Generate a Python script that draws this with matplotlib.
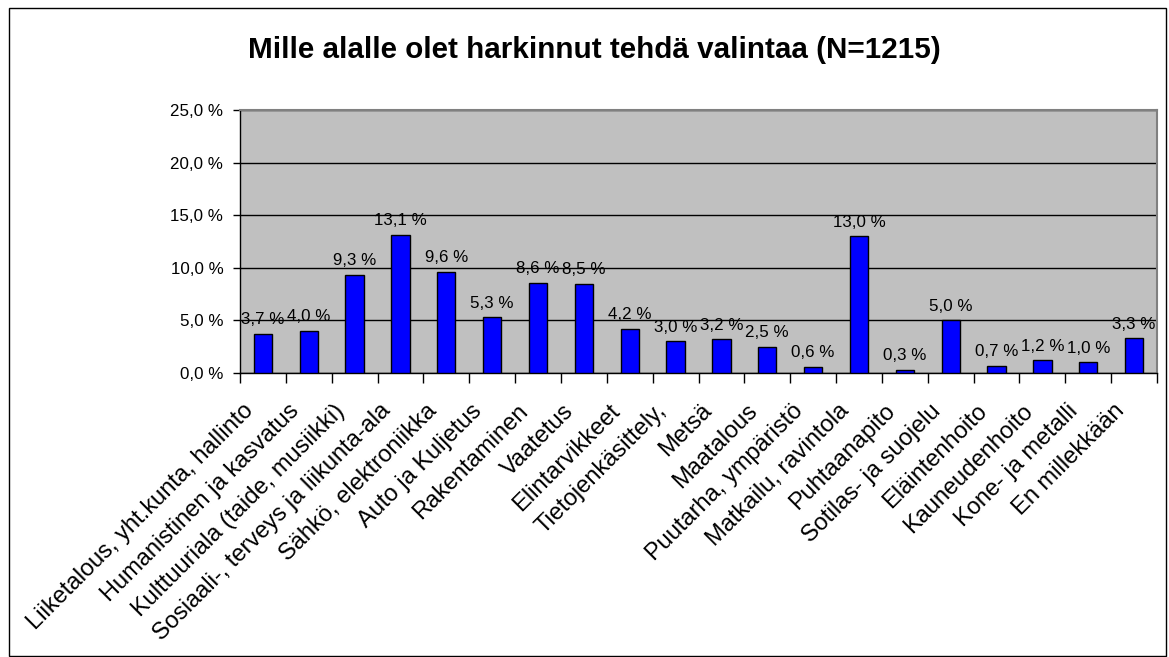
import matplotlib
matplotlib.use("Agg")
import matplotlib.pyplot as plt
import matplotlib.transforms as mtransforms
from matplotlib.ticker import FuncFormatter, MultipleLocator, FixedLocator
from matplotlib.patches import Rectangle

plt.rcParams['font.family'] = ['Liberation Sans', 'DejaVu Sans']

title = "Mille alalle olet harkinnut tehdä valintaa (N=1215)"
categories = [
    "Liiketalous, yht.kunta, hallinto",
    "Humanistinen ja kasvatus",
    "Kulttuuriala (taide, musiikki)",
    "Sosiaali-, terveys ja liikunta-ala",
    "Sähkö, elektroniikka",
    "Auto ja Kuljetus",
    "Rakentaminen",
    "Vaatetus",
    "Elintarvikkeet",
    "Tietojenkäsittely,",
    "Metsä",
    "Maatalous",
    "Puutarha, ympäristö",
    "Matkailu, ravintola",
    "Puhtaanapito",
    "Sotilas- ja suojelu",
    "Eläintenhoito",
    "Kauneudenhoito",
    "Kone- ja metalli",
    "En millekkään",
]
values = [3.7, 4.0, 9.3, 13.1, 9.6, 5.3, 8.6, 8.5, 4.2, 3.0,
          3.2, 2.5, 0.6, 13.0, 0.3, 5.0, 0.7, 1.2, 1.0, 3.3]
y_max = 25.0
y_step = 5.0

W, H = 1169, 657
fig = plt.figure(figsize=(W / 100, H / 100), dpi=100)
fig.patch.set_facecolor('white')

# outer chart border
fig.patches.append(Rectangle((9 / W, 1 - 656 / H), (1166 - 9) / W, (656 - 8) / H,
                             transform=fig.transFigure, fill=False,
                             edgecolor='black', lw=1.0))

left, right, top, bottom = 240, 1157, 110, 373
ax = fig.add_axes([left / W, 1 - bottom / H, (right - left) / W, (bottom - top) / H])
ax.set_facecolor('#C0C0C0')

x = list(range(len(categories)))
ax.bar(x, values, width=0.4, color='#0000FF', edgecolor='black', linewidth=1.0, zorder=3)

for xi, v in zip(x, values):
    ax.annotate(f"{v:.1f} %".replace('.', ','), (xi, v), xytext=(0, 7),
                textcoords='offset points', ha='center', va='baseline',
                fontsize=12.2, color='black', zorder=4)

ax.set_xlim(-0.5, len(categories) - 0.5)
ax.set_ylim(0, y_max)

ax.yaxis.set_major_locator(MultipleLocator(y_step))
ax.yaxis.set_major_formatter(FuncFormatter(lambda v, p: f"{v:.1f} %".replace('.', ',')))
ax.tick_params(axis='y', direction='out', length=5, width=1, color='black',
               labelsize=12.2, pad=7)
ax.set_axisbelow(True)
ax.yaxis.grid(True, color='black', linewidth=1.0)
ax.xaxis.grid(False)

ax.set_xticks(x)
ax.set_xticklabels(categories, fontsize=17, rotation=45, ha='right',
                   va='baseline', rotation_mode='anchor')
ax.tick_params(axis='x', which='major', length=0, pad=28)
ax.xaxis.set_minor_locator(FixedLocator([i - 0.5 for i in range(len(categories) + 1)]))
ax.tick_params(axis='x', which='minor', direction='out', length=7, width=1, color='black')

offset = mtransforms.ScaledTranslation(-9 / 100, 0, fig.dpi_scale_trans)
for lab in ax.get_xticklabels():
    lab.set_transform(lab.get_transform() + offset)

for s in ['left', 'bottom']:
    ax.spines[s].set_color('black')
    ax.spines[s].set_linewidth(1.0)
for s in ['top', 'right']:
    ax.spines[s].set_color('#808080')
    ax.spines[s].set_linewidth(1.5)

fig.text(594 / W, 1 - 57.5 / H, title, ha='center', va='baseline',
         fontsize=21.3, fontweight='bold', color='black')

fig.savefig('out.png', dpi=100)
